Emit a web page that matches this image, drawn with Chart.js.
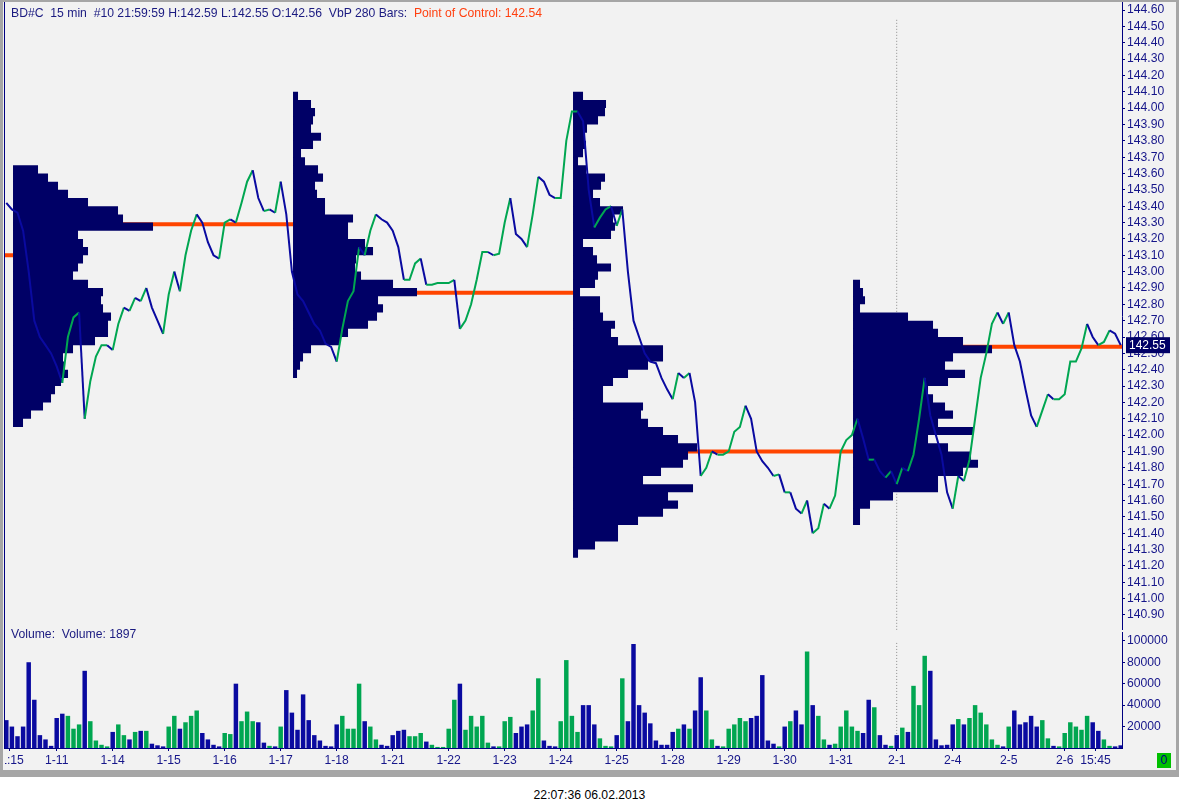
<!DOCTYPE html>
<html>
<head>
<meta charset="utf-8">
<script src="https://cdn.jsdelivr.net/npm/chart.js"></script>
<style>
  body { margin: 0; background: #fff; width: 1179px; height: 811px; position: relative; overflow: hidden;
         font-family: "Liberation Sans", Arial, sans-serif; }
  #frame { position: absolute; left: 0; top: 0; width: 1179px; height: 777px; background: #a6a6a6; }
  #inner { position: absolute; left: 3px; top: 2px; width: 1173px; height: 768px; background: #f2f2f2; }
  #leftline { position: absolute; left: 4px; top: 2px; width: 1px; height: 747px; background: #000080; }
  canvas { position: absolute; left: 5px; }
  #price { top: 0; }
  #volume { top: 630px; }
  .txt { position: absolute; font-size: 12.2px; white-space: pre; color: #1a1a80; z-index: 2; }
  #header { left: 11px; top: 6px; }
  #header span { color: #ff4010; }
  #vollabel { left: 11px; top: 627px; }
  #stamp { left: 0; top: 788px; width: 1179px; text-align: center; color: #000; }
  #zero { left: 1157px; top: 753px; width: 14px; height: 15px; line-height: 15px; text-align: center;
          background: #00c000; color: #000080; }
</style>
</head>
<body>
<div id="frame"></div>
<div id="inner"></div>
<div id="leftline"></div>
<canvas id="price" width="1171" height="630"></canvas>
<canvas id="volume" width="1171" height="140"></canvas>
<div class="txt" id="header">BD#C  15 min  #10 21:59:59 H:142.59 L:142.55 O:142.56  VbP 280 Bars:  <span>Point of Control: 142.54</span></div>
<div class="txt" id="vollabel">Volume:  Volume: 1897</div>
<div class="txt" id="zero">0</div>
<div class="txt" id="stamp">22:07:36 06.02.2013</div>
<script>
// 15 min bars sampled every 0.1 trading day, day 1 = 1-11
const firstBarDay = 0.1;
const barStep = 0.1;

const closes = [
  143.42, 143.38, 143.36, 143.25, 143.00, 142.70, 142.60, 142.55, 142.50, 142.42,
  142.32, 142.60, 142.72, 142.75, 142.10, 142.33, 142.48, 142.55, 142.55, 142.52,
  142.68, 142.78, 142.76, 142.84, 142.82, 142.90, 142.78, 142.70, 142.62, 142.86,
  143.00, 142.88, 143.10, 143.25, 143.35, 143.30, 143.18, 143.10, 143.08, 143.30,
  143.32, 143.30, 143.42, 143.55, 143.62, 143.45, 143.37, 143.38, 143.36, 143.55,
  143.35, 143.00, 142.86, 142.82, 142.75, 142.68, 142.64, 142.56, 142.54, 142.45,
  142.65, 142.82, 142.88, 143.15, 143.10, 143.25, 143.35, 143.32, 143.30, 143.25,
  143.15, 142.95, 142.95, 143.05, 143.08, 142.92, 142.92, 142.93, 142.93, 142.93,
  142.95, 142.65, 142.70, 142.80, 142.95, 143.12, 143.12, 143.10, 143.11, 143.30,
  143.45, 143.23, 143.20, 143.15, 143.35, 143.58, 143.55, 143.47, 143.45, 143.45,
  143.80, 143.98, 143.98, 143.92, 143.50, 143.27, 143.33, 143.38, 143.40, 143.28,
  143.38, 143.00, 142.70, 142.60, 142.50, 142.45, 142.44, 142.35, 142.28, 142.22,
  142.38, 142.35, 142.38, 142.20, 141.75, 141.80, 141.90, 141.88, 141.88, 141.90,
  142.02, 142.05, 142.18, 142.10, 141.90, 141.84, 141.80, 141.75, 141.76, 141.65,
  141.65, 141.55, 141.52, 141.60, 141.40, 141.43, 141.58, 141.55, 141.63, 141.90,
  141.97, 142.00, 142.10, 141.98, 141.85, 141.85, 141.78, 141.74, 141.78, 141.70,
  141.80, 141.78, 141.88, 142.10, 142.35, 142.12, 142.00, 141.88, 141.65, 141.55,
  141.75, 141.72, 141.85, 142.10, 142.35, 142.50, 142.68, 142.75, 142.68, 142.75,
  142.55, 142.45, 142.28, 142.12, 142.05, 142.15, 142.25, 142.22, 142.22, 142.25,
  142.45, 142.45, 142.53, 142.68, 142.60, 142.55, 142.57, 142.64, 142.62, 142.55
];

const volumes = [
  26000, 20000, 11000, 20000, 80000, 45000, 12000, 8000, 2000, 28000,
  32000, 30000, 18000, 22000, 72000, 25000, 7000, 3000, 1500, 15000,
  22000, 12000, 8000, 15000, 16000, 16000, 4000, 2500, 1500, 20000,
  30000, 18000, 24000, 30000, 35000, 14000, 8000, 3000, 1500, 14000,
  13000, 60000, 25000, 34000, 25000, 24000, 5000, 2000, 1500, 20000,
  54000, 33000, 17000, 50000, 26000, 12000, 7000, 2000, 1500, 22000,
  30000, 18000, 18000, 60000, 25000, 20000, 8000, 3000, 2000, 12000,
  16000, 17000, 11000, 11000, 14000, 6000, 3000, 1000, 1000, 18000,
  45000, 60000, 17000, 30000, 20000, 30000, 5000, 1500, 1500, 25000,
  29000, 14000, 20000, 22000, 35000, 65000, 7000, 2000, 1500, 25000,
  82000, 30000, 15000, 40000, 40000, 22000, 9000, 2000, 1500, 12000,
  65000, 25000, 97000, 40000, 33000, 23000, 7000, 3000, 3000, 15000,
  18000, 22000, 18000, 35000, 66000, 35000, 8000, 2000, 1500, 18000,
  22000, 28000, 25000, 28000, 30000, 68000, 7000, 4000, 1500, 20000,
  25000, 35000, 22000, 90000, 40000, 30000, 8000, 3000, 4000, 20000,
  35000, 20000, 16000, 14000, 45000, 38000, 12000, 3000, 2000, 12000,
  19000, 15000, 58000, 40000, 86000, 72000, 8000, 2500, 3000, 22000,
  27000, 22000, 28000, 40000, 33000, 22000, 8000, 3000, 1500, 20000,
  35000, 22000, 24000, 30000, 20000, 26000, 9000, 2000, 1500, 14000,
  24000, 20000, 17000, 30000, 24000, 16000, 8000, 2000, 1500, 2500
];

// weekly volume-by-price profiles (280 bars each), 0.05 price bins listed from the top down
const profileStart = [0.22, 5.22, 10.22, 15.22];
const profileTop = [143.65, 144.10, 144.10, 142.95];
const profile1 = [25, 35, 45, 55, 75, 105, 110, 140, 65, 70, 75, 70, 65, 60, 75, 90, 88, 90, 98, 95, 95, 82, 60, 50, 52, 55, 48, 42, 38, 30, 18, 10];
const profile2 = [5, 18, 22, 20, 18, 28, 20, 8, 12, 25, 30, 22, 24, 32, 32, 60, 55, 55, 72, 80, 63, 62, 68, 100, 124, 85, 90, 84, 75, 55, 47, 18, 10, 7, 4];
const profile3 = [10, 33, 32, 25, 14, 12, 13, 10, 5, 13, 32, 28, 20, 27, 50, 40, 42, 38, 10, 20, 24, 38, 25, 22, 7, 27, 27, 30, 42, 38,
                  45, 90, 90, 75, 55, 40, 30, 30, 70, 68, 75, 90, 105, 124, 115, 110, 88, 70, 120, 95, 105, 90, 65, 45, 45, 22, 5];
const profile4 = [7, 10, 12, 7, 55, 80, 85, 110, 139, 100, 92, 112, 95, 75, 80, 92, 100, 85, 120, 75, 95, 118, 125, 110, 85, 85, 40, 17, 7, 7];
const profiles = [profile1, profile2, profile3, profile4];

// point of control of the previous week and of each profile
const pocStart = [-1, 0.22, 5.22, 10.22, 15.22];
const pocEnd = [0.22, 5.22, 10.22, 15.22, 21];
const pocPrice = [143.10, 143.29, 142.87, 141.90, 142.54];

const priceTicks = [];
for (let k = 0; k <= 37; k++) priceTicks.push(+(140.90 + k * 0.10).toFixed(2));
const volumeTicks = [20000, 40000, 60000, 80000, 100000];
const tickDays = [0.15, 1, 2, 3, 4, 5, 6, 7, 8, 9, 10, 11, 12, 13, 14, 15, 16, 17, 18, 19, 19.55];
const tickLabels = ['11:15', '1-11', '1-14', '1-15', '1-16', '1-17', '1-18', '1-21', '1-22', '1-23', '1-24',
                    '1-25', '1-28', '1-29', '1-30', '1-31', '2-1', '2-4', '2-5', '2-6', '15:45'];
const sessionMarkDay = 16;

const X_MIN = 0.0768, X_MAX = 20.0232;
const BIN = 0.05;
const PROFILE_UNIT = 1 / 56;
const BLUE = '#0a0aa0', GREEN = '#00a651', NAVY = '#000066', ORANGE = '#ff4500', AXIS = '#000080', LABEL = '#16168a';

Chart.defaults.font.family = '"Liberation Sans", Arial, sans-serif';
Chart.defaults.font.size = 12;

const dayOf = i => firstBarDay + i * barStep;

function profileOutline(start, top, vols) {
  const pts = [{x: start, y: top}];
  vols.forEach((v, k) => {
    const x = start + v * PROFILE_UNIT;
    pts.push({x: x, y: top - k * BIN}, {x: x, y: top - (k + 1) * BIN});
  });
  pts.push({x: start, y: top - vols.length * BIN});
  return pts;
}

const lastPriceTag = {
  id: 'lastPriceTag',
  afterDraw(chart) {
    const ctx = chart.ctx, y = chart.scales.y.getPixelForValue(closes[closes.length - 1]);
    const x = chart.chartArea.right + 4;
    ctx.save();
    ctx.fillStyle = NAVY;
    ctx.fillRect(x, y - 8, 44, 16);
    ctx.fillStyle = '#fff';
    ctx.font = '12px "Liberation Sans", Arial, sans-serif';
    ctx.textBaseline = 'middle';
    ctx.fillText(closes[closes.length - 1].toFixed(2), x + 3, y + 1);
    ctx.restore();
  }
};

const priceSets = [{
  data: closes.map((c, i) => ({x: dayOf(i), y: c})),
  borderWidth: 2,
  borderColor: BLUE,
  segment: { borderColor: c => c.p1.parsed.y >= c.p0.parsed.y ? GREEN : BLUE },
  order: 0
}];
profiles.forEach((p, k) => priceSets.push({
  data: profileOutline(profileStart[k], profileTop[k], p),
  borderWidth: 0,
  borderColor: 'rgba(0,0,0,0)',
  backgroundColor: NAVY,
  fill: 'shape',
  order: 1
}));
pocPrice.forEach((p, k) => priceSets.push({
  data: [{x: pocStart[k], y: p}, {x: pocEnd[k], y: p}],
  borderColor: ORANGE,
  borderWidth: 4,
  borderCapStyle: 'butt',
  order: 2
}));
priceSets.push({
  data: [{x: sessionMarkDay, y: 144.54}, {x: sessionMarkDay, y: 140.70}],
  borderColor: '#8c8c8c', borderWidth: 1, borderDash: [1, 2], order: 3
});

const rightAxis = (min, max, ticks, fmt) => ({
  position: 'right', min: min, max: max,
  afterBuildTicks: s => { s.ticks = ticks.map(v => ({value: v})); },
  afterFit: s => { s.width = 54; s.paddingTop = 0; s.paddingBottom = 0; },
  ticks: { color: LABEL, padding: 2, autoSkip: false, font: { size: 12.2 }, callback: fmt },
  grid: { drawOnChartArea: false, drawTicks: true, tickLength: 3, tickColor: AXIS },
  border: { display: true, color: AXIS, width: 1 }
});

new Chart(document.getElementById('price'), {
  type: 'line',
  data: { datasets: priceSets },
  options: {
    animation: false, responsive: false,
    layout: { padding: { left: 0, top: 2, right: 0, bottom: 0 } },
    plugins: { legend: { display: false }, tooltip: { enabled: false } },
    elements: { point: { radius: 0 }, line: { tension: 0 } },
    scales: {
      x: { type: 'linear', min: X_MIN, max: X_MAX, display: false },
      y: rightAxis(140.808, 144.649, priceTicks, v => v.toFixed(2))
    }
  },
  plugins: [lastPriceTag]
});

new Chart(document.getElementById('volume'), {
  type: 'bar',
  data: {
    datasets: [{
      type: 'bar',
      data: volumes.map((v, i) => ({x: dayOf(i), y: v})),
      backgroundColor: closes.map((c, i) => i > 0 && c >= closes[i - 1] ? GREEN : BLUE),
      barPercentage: 0.8, categoryPercentage: 1, order: 0
    }, {
      type: 'line',
      data: [{x: sessionMarkDay, y: 98000}, {x: sessionMarkDay, y: 0}],
      borderColor: '#8c8c8c', borderWidth: 1, borderDash: [1, 2], pointRadius: 0, order: 1
    }]
  },
  options: {
    animation: false, responsive: false,
    layout: { padding: { left: 0, top: 2, right: 0, bottom: 0 } },
    plugins: { legend: { display: false }, tooltip: { enabled: false } },
    scales: {
      x: {
        type: 'linear', min: X_MIN, max: X_MAX, offset: false,
        afterBuildTicks: s => { s.ticks = tickDays.map(v => ({value: v})); },
        afterFit: s => { s.height = 22; s.paddingLeft = 0; s.paddingRight = 0; },
        ticks: { color: LABEL, padding: 2, autoSkip: false, maxRotation: 0, minRotation: 0,
                 font: { size: 12.2 }, callback: (v, i) => tickLabels[i] },
        grid: { offset: false, drawOnChartArea: false, drawTicks: true, tickLength: 3, tickColor: AXIS },
        border: { display: true, color: AXIS, width: 1 }
      },
      y: rightAxis(0, 108200, volumeTicks, v => String(v))
    }
  }
});
</script>
</body>
</html>
